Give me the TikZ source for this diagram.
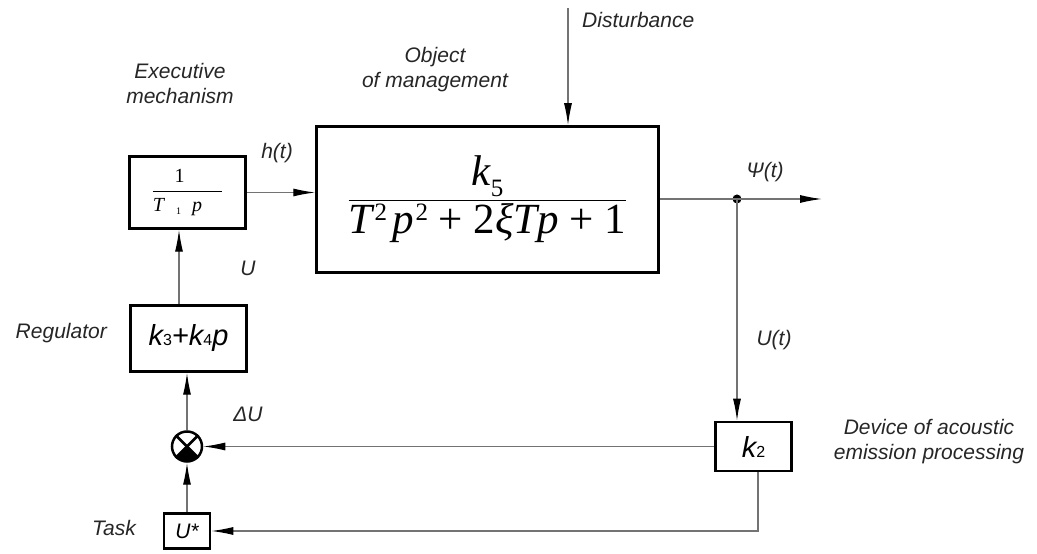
\documentclass[tikz,border=0pt]{standalone}
\usepackage{fontspec}
\usepackage{amsmath}
\setmainfont{Liberation Sans}
\newfontfamily\tms{Liberation Serif}
\usetikzlibrary{arrows.meta,calc}
\newcommand{\smallsub}[1]{{\fontsize{16}{16}\selectfont\upshape #1}}
\begin{document}
\begin{tikzpicture}[x=1pt,y=1pt,
  blk/.style={draw=black,line width=2.5pt,inner sep=0pt,fill=white},
  conn/.style={draw=black!55,line width=1.2pt},
  arr/.style={conn,-{Latex[length=22pt,width=8pt,color=black]}},
  lbl/.style={font=\fontsize{21}{25}\selectfont\itshape,inner sep=0pt,align=center,text=black!85}]
\useasboundingbox (0,0) rectangle (1037,554);

% blocks
\node[blk,minimum width=116pt,minimum height=72pt] (exec) at (187.5,361.5)
  {\fontsize{20}{23}\selectfont$\dfrac{\mbox{\tms 1\hspace{16pt}}}{\mbox{\tms\itshape T\hspace{12pt}{\upshape\fontsize{10}{10}\selectfont\raisebox{-3pt}{1}}\hspace{11pt}p\hspace{20pt}}}$};
\node[blk,minimum width=116pt,minimum height=66pt] (reg) at (188.5,215.5)
  {\fontsize{29}{32}\selectfont\itshape k\smallsub{3}+k\smallsub{4}p};
\node[blk,minimum width=342pt,minimum height=146pt] (main) at (487.5,354.5)
  {\fontsize{43}{50}\selectfont$\dfrac{\mbox{\tms\itshape k\raisebox{-11pt}{\fontsize{25}{25}\selectfont\upshape 5}}}{\mbox{\tms\itshape T\raisebox{13pt}{\fontsize{25}{25}\selectfont\upshape\hspace{2pt}2}\hspace{5pt}p\raisebox{13pt}{\fontsize{25}{25}\selectfont\upshape\hspace{2pt}2} \upshape+ 2\itshape ξTp \upshape+ 1}}$};
\node[blk,minimum width=76pt,minimum height=49pt] (k2) at (753.5,107.5)
  {\fontsize{29}{32}\selectfont\itshape k\smallsub{2}};
\node[blk,minimum width=46pt,minimum height=35pt] (ustar) at (187,23)
  {\fontsize{21}{25}\selectfont\itshape U*};
\node[circle,draw=black,line width=2.5pt,minimum size=30pt,inner sep=0pt,fill=white] (sum) at (187,107.5) {};
\fill[black] (sum.center) -- ++(-45:15) arc(-45:-135:15) -- cycle;
\draw[line width=2.5pt] (sum.45) -- (sum.-135);
\draw[line width=2.5pt] (sum.135) -- (sum.-45);
\node[circle,fill=black,inner sep=0pt,minimum size=9pt] (dot) at (737,355) {};

% free ends
\coordinate (out) at (822,355);
\coordinate (dist) at (568,546);
\coordinate (c1) at (758,23);

% connectors
\draw[arr] (exec.east) -- (exec.east -| main.west);
\draw[arr] (main.east |- dot) -- (out);
\draw[arr] (dist) -- (dist |- main.north);
\draw[arr] (dot.center) -- (dot |- k2.north);
\draw[arr] (k2.west) -- (sum.east);
\draw[arr] (k2.south -| c1) -- (c1) -- (ustar.east);
\draw[arr] (ustar.north) -- (sum.south);
\draw[arr] (sum.north) -- (sum.north |- reg.south);
\draw[arr] ([xshift=-9.5pt]reg.north) -- ([xshift=-9.5pt]reg.north |- exec.south);

% labels
\node[lbl] (lexec) at (180,470) {Executive\\mechanism};
\node[lbl] (lobj) at (435,484) {Object\\of management};
\node[lbl,anchor=west] (ldist) at (582,534) {Disturbance};
\node[lbl] (lh) at (277,401) {h(t)};
\node[lbl] (lu) at (248,286) {U};
\node[lbl] (ldu) at (248,140) {ΔU};
\node[lbl] (lpsi) at (765,382) {Ψ(t)};
\node[lbl] (lut) at (774,214) {U(t)};
\node[lbl,anchor=east] (lreg) at (107,221) {Regulator};
\node[lbl,anchor=east] (ltask) at (136,26) {Task};
\node[lbl] (ldev) at (929,112) {Device of acoustic\\emission processing};
\end{tikzpicture}
\end{document}
